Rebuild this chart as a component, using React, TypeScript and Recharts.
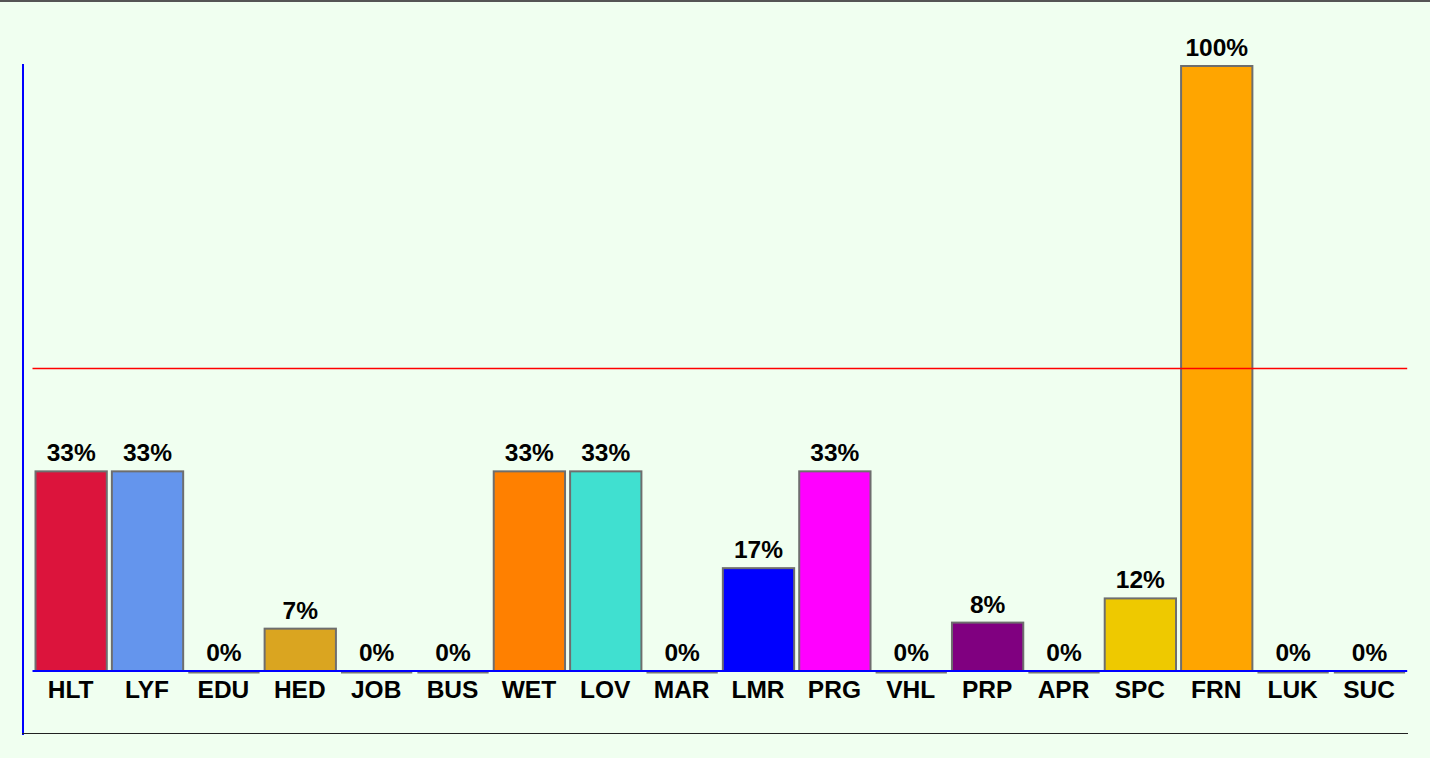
import React from "react";
import { BarChart, Bar, XAxis, YAxis, ReferenceLine, LabelList, Cell } from "recharts";

const categories = ["HLT", "LYF", "EDU", "HED", "JOB", "BUS", "WET", "LOV", "MAR", "LMR", "PRG", "VHL", "PRP", "APR", "SPC", "FRN", "LUK", "SUC"];
const values = [33, 33, 0, 7, 0, 0, 33, 33, 0, 17, 33, 0, 8, 0, 12, 100, 0, 0];
const colors = ["#DC143C", "#6495ED", "#999999", "#DAA520", "#999999", "#999999", "#FF8000", "#40E0D0", "#999999", "#0000FF", "#FF00FF", "#999999", "#800080", "#999999", "#EEC900", "#FFA500", "#999999", "#999999"];
const threshold = 50;

const data = categories.map((c, i) => ({ name: c, value: values[i] }));

const FONT = "'Liberation Sans', Arial, Helvetica, sans-serif";

const BarShape = (props: any) => {
  const { x, y, width, height, fill } = props;
  if (!height || Math.abs(height) < 0.5) {
    return <line x1={x} x2={x + width} y1={y + 1.5} y2={y + 1.5} stroke="#777777" strokeWidth={2} />;
  }
  return <rect x={x} y={y} width={width} height={height} fill={fill} stroke="#6e6e6e" strokeWidth={2} />;
};

export default function App() {
  return (
    <div style={{ position: "absolute", left: 0, top: 0, width: 1430, height: 758, background: "#F0FFF0", overflow: "hidden" }}>
      <div style={{ position: "absolute", left: 0, top: 0, width: 1430, height: 2, background: "#555555" }} />
      <div style={{ position: "absolute", left: 22, top: 64, width: 2, height: 671, background: "#0000FF" }} />
      <div style={{ position: "absolute", left: 22, top: 733, width: 1386, height: 1, background: "#222222" }} />
      <div style={{ position: "absolute", left: 0, top: 0 }}>
        <BarChart width={1430} height={758} data={data} margin={{ top: 66, right: 22.8, bottom: 47, left: 32.5 }}>
          <YAxis hide domain={[0, 100]} />
          <XAxis
            dataKey="name"
            height={40}
            axisLine={{ stroke: "#0000FF", strokeWidth: 2 }}
            tickLine={false}
            tickSize={0}
            tickMargin={10}
            interval={0}
            tick={{ fill: "#000000", fontSize: 24.5, fontWeight: "bold", fontFamily: FONT }}
          />
          <ReferenceLine y={threshold} stroke="#FF0000" strokeWidth={1.5} />
          <Bar dataKey="value" barSize={71.3} isAnimationActive={false} shape={<BarShape />}>
            {data.map((d, i) => (
              <Cell key={d.name} fill={colors[i]} />
            ))}
            <LabelList
              dataKey="value"
              position="top"
              offset={10}
              formatter={(v: any) => `${v}%`}
              style={{ fill: "#000000", fontSize: 24.5, fontWeight: "bold", fontFamily: FONT }}
            />
          </Bar>
        </BarChart>
      </div>
    </div>
  );
}
